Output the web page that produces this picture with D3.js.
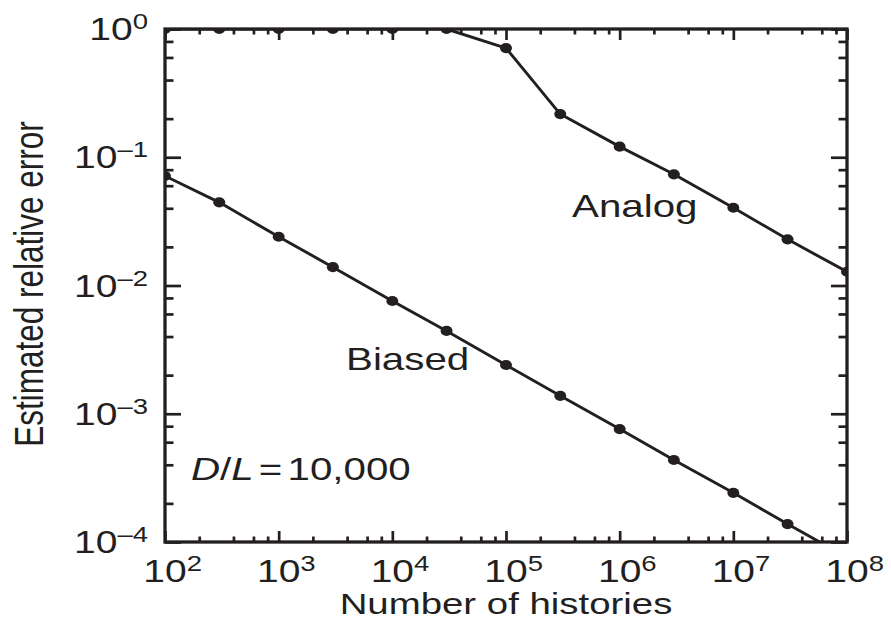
<!DOCTYPE html>
<html>
<head>
<meta charset="utf-8">
<script src="https://cdn.jsdelivr.net/npm/d3@7"></script>
<style>
  body { margin: 0; background: #fff; }
  text { font-family: "Liberation Sans", Arial, Helvetica, sans-serif; fill: #231f20; }
</style>
</head>
<body>
<svg id="chart" width="891" height="629"></svg>
<script>
// Number of histories at which the error was estimated
const histories = [1e2, 3e2, 1e3, 3e3, 1e4, 3e4, 1e5, 3e5, 1e6, 3e6, 1e7, 3e7, 1e8];
// Estimated relative error, analog sampling
const analogError = [1.0, 1.0, 1.0, 1.0, 1.0, 1.0, 0.71, 0.217, 0.121, 0.0736, 0.0404, 0.0229, 0.0128];
// Estimated relative error, biased sampling
const biasedError = [0.0714, 0.0445, 0.0240, 0.0139, 0.00757, 0.00442, 0.00240, 0.00138, 0.00076, 0.000436, 0.000242, 0.000138, 0.000076];

const xTickExponents = [2, 3, 4, 5, 6, 7, 8];
const yTickExponents = [0, -1, -2, -3, -4];
const minorMultipliers = [2, 4, 6, 8];
const seriesNames = ["Analog", "Biased"];
const xTitle = "Number of histories";
const yTitle = "Estimated relative error";

const W = 891, H = 629;
const margin = { left: 165, right: 44, top: 29, bottom: 87 };
const ink = "#231f20";
const stretch = 1.28; // horizontal stretch of the lettering

const svg = d3.select("#chart");

const x = d3.scaleLog().domain([1e2, 1e8]).range([margin.left, W - margin.right]);
const y = d3.scaleLog().domain([1e-4, 1]).range([H - margin.bottom, margin.top]);

const pow = e => Math.pow(10, e);
const xMajor = xTickExponents.map(pow);
const yMajor = yTickExponents.map(pow);
const minorsFor = exps => {
  const lo = d3.min(exps), hi = d3.max(exps), out = [];
  for (let k = lo; k < hi; k++) minorMultipliers.forEach(m => out.push(m * pow(k)));
  return out;
};
const xMinor = minorsFor(xTickExponents);
const yMinor = minorsFor(yTickExponents);

// clip region for the data
svg.append("clipPath").attr("id", "plot-clip")
  .append("rect")
  .attr("x", x.range()[0]).attr("y", y.range()[1])
  .attr("width", x.range()[1] - x.range()[0])
  .attr("height", y.range()[0] - y.range()[1]);

// data lines and markers
const line = d3.line().x(d => x(d[0])).y(d => y(d[1]));
const plot = svg.append("g").attr("clip-path", "url(#plot-clip)");
[analogError, biasedError].forEach(series => {
  const pts = histories.map((h, i) => [h, series[i]]);
  plot.append("path").datum(pts)
    .attr("d", line)
    .attr("fill", "none")
    .attr("stroke", ink)
    .attr("stroke-width", 2.9)
    .attr("stroke-linejoin", "round");
  plot.selectAll(null).data(pts).enter().append("ellipse")
    .attr("cx", d => x(d[0])).attr("cy", d => y(d[1]))
    .attr("rx", 6).attr("ry", 5.1)
    .attr("fill", ink);
});

// tick marks on all four sides, pointing inward
function ticks(axisGen, tx, ty, values, size) {
  const g = svg.append("g").attr("transform", `translate(${tx},${ty})`)
    .call(axisGen.tickValues(values).tickSizeInner(-size).tickSizeOuter(0).tickFormat(() => ""));
  g.select(".domain").remove();
  g.selectAll(".tick line").attr("stroke", ink).attr("stroke-width", 2.7);
}
const [x0, x1] = x.range();
const [y0, y1] = y.range();
ticks(d3.axisBottom(x), 0, y0, xMajor, 11);
ticks(d3.axisBottom(x), 0, y0, xMinor, 5.5);
ticks(d3.axisTop(x), 0, y1, xMajor, 11);
ticks(d3.axisTop(x), 0, y1, xMinor, 5.5);
ticks(d3.axisLeft(y), x0, 0, yMajor, 16);
ticks(d3.axisLeft(y), x0, 0, yMinor, 8.5);
ticks(d3.axisRight(y), x1, 0, yMajor, 16);
ticks(d3.axisRight(y), x1, 0, yMinor, 8.5);

// frame
svg.append("rect")
  .attr("x", x0).attr("y", y1)
  .attr("width", x1 - x0).attr("height", y0 - y1)
  .attr("fill", "none").attr("stroke", ink).attr("stroke-width", 3.3);

// power-of-ten labels
const baseSize = 30.5, supSize = 21.5;
function powerLabel(px, py, exp, anchor) {
  const t = svg.append("text")
    .attr("transform", `translate(${px},${py}) scale(${stretch},1)`)
    .attr("font-size", baseSize)
    .attr("text-anchor", anchor === "end" ? "end" : "start");
  if (anchor === "center") t.attr("x", -baseSize * 0.556);
  t.append("tspan").text("10");
  t.append("tspan").attr("font-size", supSize).attr("dy", -11)
    .text(exp < 0 ? "\u2013" + (-exp) : String(exp));
}
xTickExponents.forEach(e => powerLabel(x(pow(e)), 582, e, "center"));
yTickExponents.forEach(e => powerLabel(148, y(pow(e)) + 11, e, "end"));

// axis titles
svg.append("text")
  .attr("transform", `translate(${(x0 + x1) / 2},614) scale(${stretch},1)`)
  .attr("text-anchor", "middle").attr("font-size", 30)
  .text(xTitle);
svg.append("text")
  .attr("transform", `translate(43,284) scale(${stretch},1) rotate(-90)`)
  .attr("text-anchor", "middle").attr("font-size", 31.5)
  .text(yTitle);

// series names
function note(px, py, str) {
  return svg.append("text")
    .attr("transform", `translate(${px},${py}) scale(${stretch},1)`)
    .attr("font-size", 31.5)
    .text(str);
}
note(572, 217, seriesNames[0]);
note(346, 370, seriesNames[1]);

// parameter annotation
const ann = svg.append("text")
  .attr("transform", `translate(191,480) scale(${stretch},1)`)
  .attr("font-size", 31.5);
ann.append("tspan").attr("font-style", "italic").text("D");
ann.append("tspan").text("/");
ann.append("tspan").attr("font-style", "italic").text("L");
ann.append("tspan").attr("dx", 4).text("=");
ann.append("tspan").attr("dx", 4).text("10,000");
</script>
</body>
</html>
